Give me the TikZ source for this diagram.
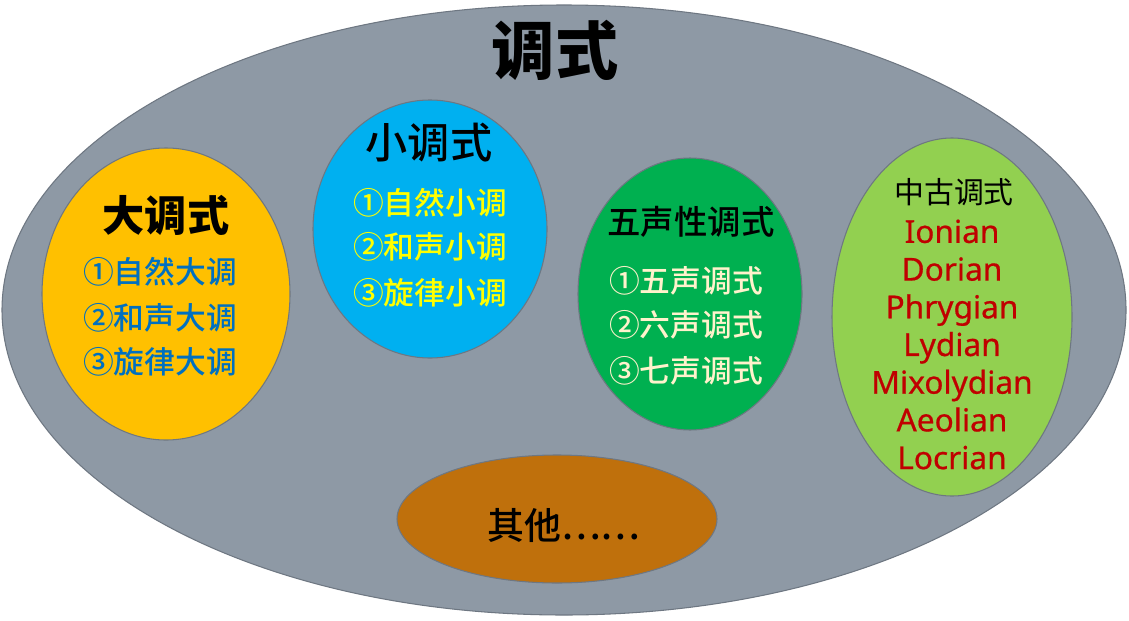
\documentclass[tikz,border=0pt]{standalone}
\usepackage{fontspec}
\setmainfont{Noto Sans CJK SC}
\newfontfamily\medio{Noto Sans CJK SC Medium}
\newfontfamily\latinfont{Noto Sans}[FakeBold=0.6]
\usetikzlibrary{shapes.geometric}
\definecolor{fondo}{HTML}{8E99A5}
\definecolor{borde}{HTML}{6E7782}
\definecolor{amar}{HTML}{FFC000}
\definecolor{cielo}{HTML}{00B0F0}
\definecolor{verde}{HTML}{00B050}
\definecolor{lima}{HTML}{92D050}
\definecolor{cafe}{HTML}{BF700C}
\definecolor{azultx}{HTML}{0070C0}
\definecolor{amartx}{HTML}{FFFF00}
\definecolor{cremtx}{HTML}{FFF2CC}
\definecolor{rojotx}{HTML}{C00000}
\tikzset{
 burbuja/.style={ellipse,draw=borde,line width=0.6pt,inner sep=0pt},
 titulo/.style={text=black,inner sep=0pt},
 item/.style={inner sep=0pt,font=\medio\fontsize{17.5pt}{20pt}\selectfont},
}

\begin{document}
\begin{tikzpicture}

\useasboundingbox[fill=white] (0,0) rectangle (22.58,12.4);
% fondo
\node[burbuja,fill=fondo,minimum width=22.48cm,minimum height=12.2cm] (todo) at (11.28,6.2) {};
\node[titulo,font=\fontsize{36pt}{40pt}\selectfont\bfseries] (tit) at (11.1,11.4) {调式};

% mayor
\node[burbuja,fill=amar,minimum width=4.96cm,minimum height=5.84cm] (mayor) at (3.32,6.52) {};
\node[titulo,font=\fontsize{24pt}{28pt}\selectfont\bfseries] (mayor-t) at (3.32,8.1) {大调式};
\foreach \i/\y/\t in {1/6.96/①自然大调,2/6.04/②和声大调,3/5.16/③旋律大调}
 \node[item,text=azultx] (mayor-\i) at (3.2,\y) {\t};

% menor
\node[burbuja,fill=cielo,minimum width=4.68cm,minimum height=5.16cm] (menor) at (8.6,7.82) {};
\node[titulo,font=\medio\fontsize{24pt}{28pt}\selectfont] (menor-t) at (8.58,9.54) {小调式};
\foreach \i/\y/\t in {1/8.34/①自然小调,2/7.46/②和声小调,3/6.54/③旋律小调}
 \node[item,text=amartx] (menor-\i) at (8.6,\y) {\t};

% pentatonica
\node[burbuja,fill=verde,minimum width=4.48cm,minimum height=5.44cm] (penta) at (13.8,6.52) {};
\node[titulo,font=\medio\fontsize{19pt}{22pt}\selectfont] (penta-t) at (13.82,7.96) {五声性调式};
\foreach \i/\y/\t in {1/6.78/①五声调式,2/5.9/②六声调式,3/4.98/③七声调式}
 \node[item,text=cremtx] (penta-\i) at (13.72,\y) {\t};

% modos antiguos
\node[burbuja,fill=lima,minimum width=4.8cm,minimum height=7.16cm] (modos) at (19.04,6.06) {};
\node[titulo,font=\fontsize{17pt}{20pt}\selectfont] (modos-t) at (19.08,8.56) {中古调式};
\foreach \t [count=\i] in {Ionian,Dorian,Phrygian,Lydian,Mixolydian,Aeolian,Locrian}
 \node[inner sep=0pt,text height=0.72em,text depth=0.22em,text=rojotx,font=\latinfont\fontsize{18pt}{20pt}\selectfont] (modos-\i) at (19.04,{7.63-0.754*(\i-1)}) {\t};

% otros
\node[burbuja,fill=cafe,minimum width=6.4cm,minimum height=2.56cm] (otros) at (11.14,2.02) {};
\node[titulo,font=\medio\fontsize{21pt}{24pt}\selectfont] (otros-t) at (11.28,1.9) {其他……};

\end{tikzpicture}
\end{document}
